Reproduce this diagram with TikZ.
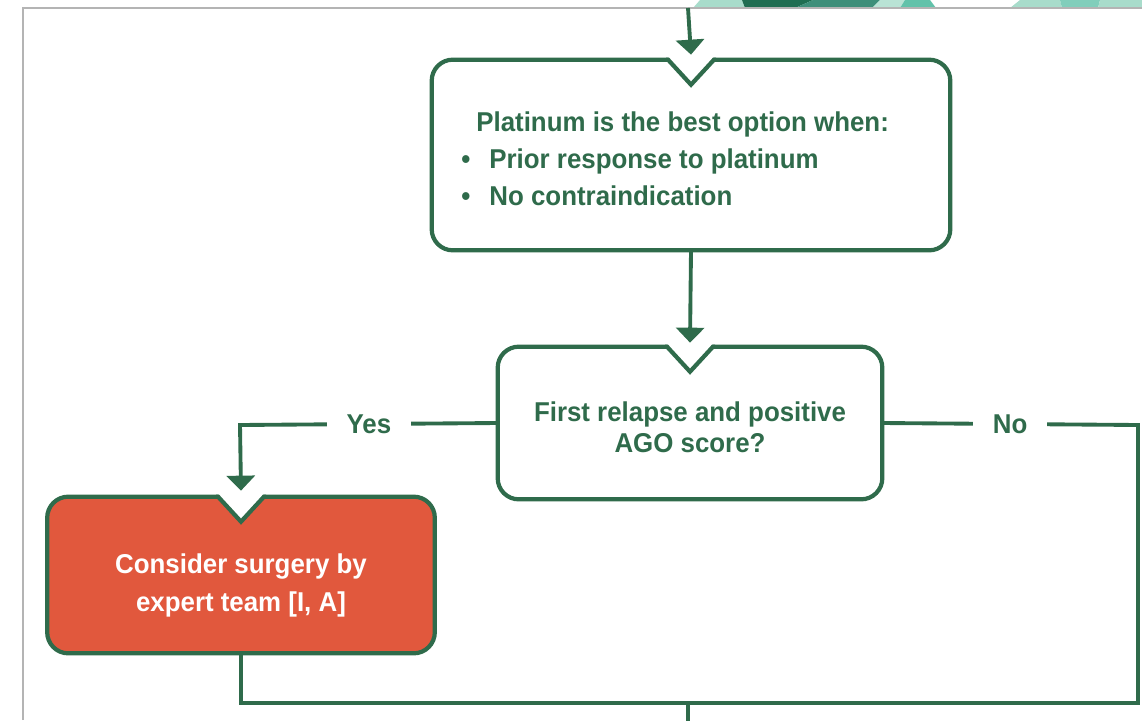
\documentclass[tikz,border=0pt]{standalone}
\usepackage{fontspec}
\setmainfont{Liberation Sans}[FakeStretch=0.95]
\usetikzlibrary{positioning,arrows.meta,calc,backgrounds}

\definecolor{guidegreen}{HTML}{2F6B4B}
\definecolor{surgeryred}{HTML}{E1583D}
\definecolor{framegray}{HTML}{B4B4B4}
\definecolor{tealdark}{HTML}{1F6E52}
\definecolor{tealmid}{HTML}{3E8F7A}
\definecolor{teallight}{HTML}{A8DCCB}
\definecolor{tealbright}{HTML}{62C2AA}

% outline of a box with the V notch at the top
\newcommand{\notchoutline}[2]{%
  \begin{pgfonlayer}{background}
    \filldraw[boxline, fill=#2, rounded corners=12]
      (#1.north west) rectangle (#1.south east);
    \fill[white] ($(#1.north)+(-23,-3)$) -- ($(#1.north)+(23,-3)$)
      -- ($(#1.north)+(0,25)$) -- cycle;
    \draw[boxline, line join=miter]
      ($(#1.north)+(-25,0)$) -- ($(#1.north)+(-23,0)$)
      -- ($(#1.north)+(0,25)$) -- ($(#1.north)+(23,0)$) -- ($(#1.north)+(25,0)$);
  \end{pgfonlayer}}

\begin{document}
\begin{tikzpicture}[
    x=0.02cm, y=-0.02cm,
    font=\bfseries\fontsize{15.5}{21}\selectfont,
    box/.style={inner sep=0pt, text=guidegreen, align=center},
    boxline/.style={draw=guidegreen, line width=2.4pt},
    link/.style={draw=guidegreen, line width=2.2pt},
    arrow/.style={link, -{Triangle[width=5.6mm, length=3mm]}},
    lbl/.style={fill=white, text=guidegreen, inner xsep=0.4cm, inner ysep=2pt},
  ]
  \useasboundingbox (0,0) rectangle (1142,720);

  % decoration along the top edge
  \fill[teallight] (693,8) -- (700,0) -- (742,0) -- (745,8) -- cycle;
  \fill[tealdark] (745,8) -- (742,0) -- (813,0) -- (795,8) -- cycle;
  \fill[tealmid] (795,8) -- (813,0) -- (880,0) -- (872,8) -- cycle;
  \fill[teallight!80] (872,8) -- (880,0) -- (905,0) -- (900,8) -- cycle;
  \fill[tealbright] (900,8) -- (905,0) -- (930,0) -- (936,8) -- cycle;
  \fill[teallight] (1010,8) -- (1020,0) -- (1060,0) -- (1062,8) -- cycle;
  \fill[tealbright!80] (1062,8) -- (1060,0) -- (1100,0) -- (1098,8) -- cycle;
  \fill[teallight] (1098,8) -- (1100,0) -- (1142,0) -- (1142,8) -- cycle;
  \draw[framegray, line width=1.6pt] (23,720) -- (23,8) -- (1142,8);

  % boxes
  \node[box, minimum width=10.36cm, minimum height=3.8cm] (plat) at (691,155) {};
  \node[box, anchor=west, align=left] (plattxt) at (461,159)
    {\hspace*{0.3cm}Platinum is the best option when:\\
     \textbullet\hspace{0.38cm}Prior response to platinum\\
     \textbullet\hspace{0.38cm}No contraindication};
  \node[box, minimum width=7.68cm, minimum height=3.04cm,
        font=\bfseries\fontsize{15.5}{17.6}\selectfont] (relapse) at (690,423)
    {\\[-2pt]First relapse and positive\\AGO score?};
  \node[box, minimum width=7.74cm, minimum height=3.12cm, text=white,
        font=\bfseries\fontsize{15.5}{21.5}\selectfont] (surgery) at (241,575)
    {\\[2pt]Consider surgery by\\expert team [I, A]};
  \notchoutline{plat}{white}
  \notchoutline{relapse}{white}
  \notchoutline{surgery}{surgeryred}

  % connectors
  \coordinate (topin) at (688,8);
  \coordinate (yescorner) at (240,425);
  \coordinate (nocorner) at (1138,425);
  \coordinate (merge) at (1138,703);
  \coordinate (mergemid) at (688,703);
  \coordinate (exit) at (688,722);

  \draw[arrow] (topin) -- ($(plat.north)+(0,-5)$);
  \draw[arrow] (plat.south) -- ($(relapse.north)+(0,-4)$);
  \draw[arrow] (relapse.west) -- node[lbl] {Yes} (yescorner)
    -- ($(surgery.north)+(0,-6)$);
  \draw[link, line join=miter] (relapse.east) -- node[lbl] {No} (nocorner)
    -- (merge) -- (merge -| surgery.south) -- (surgery.south);
  \draw[link] (mergemid) -- (exit);
\end{tikzpicture}
\end{document}
